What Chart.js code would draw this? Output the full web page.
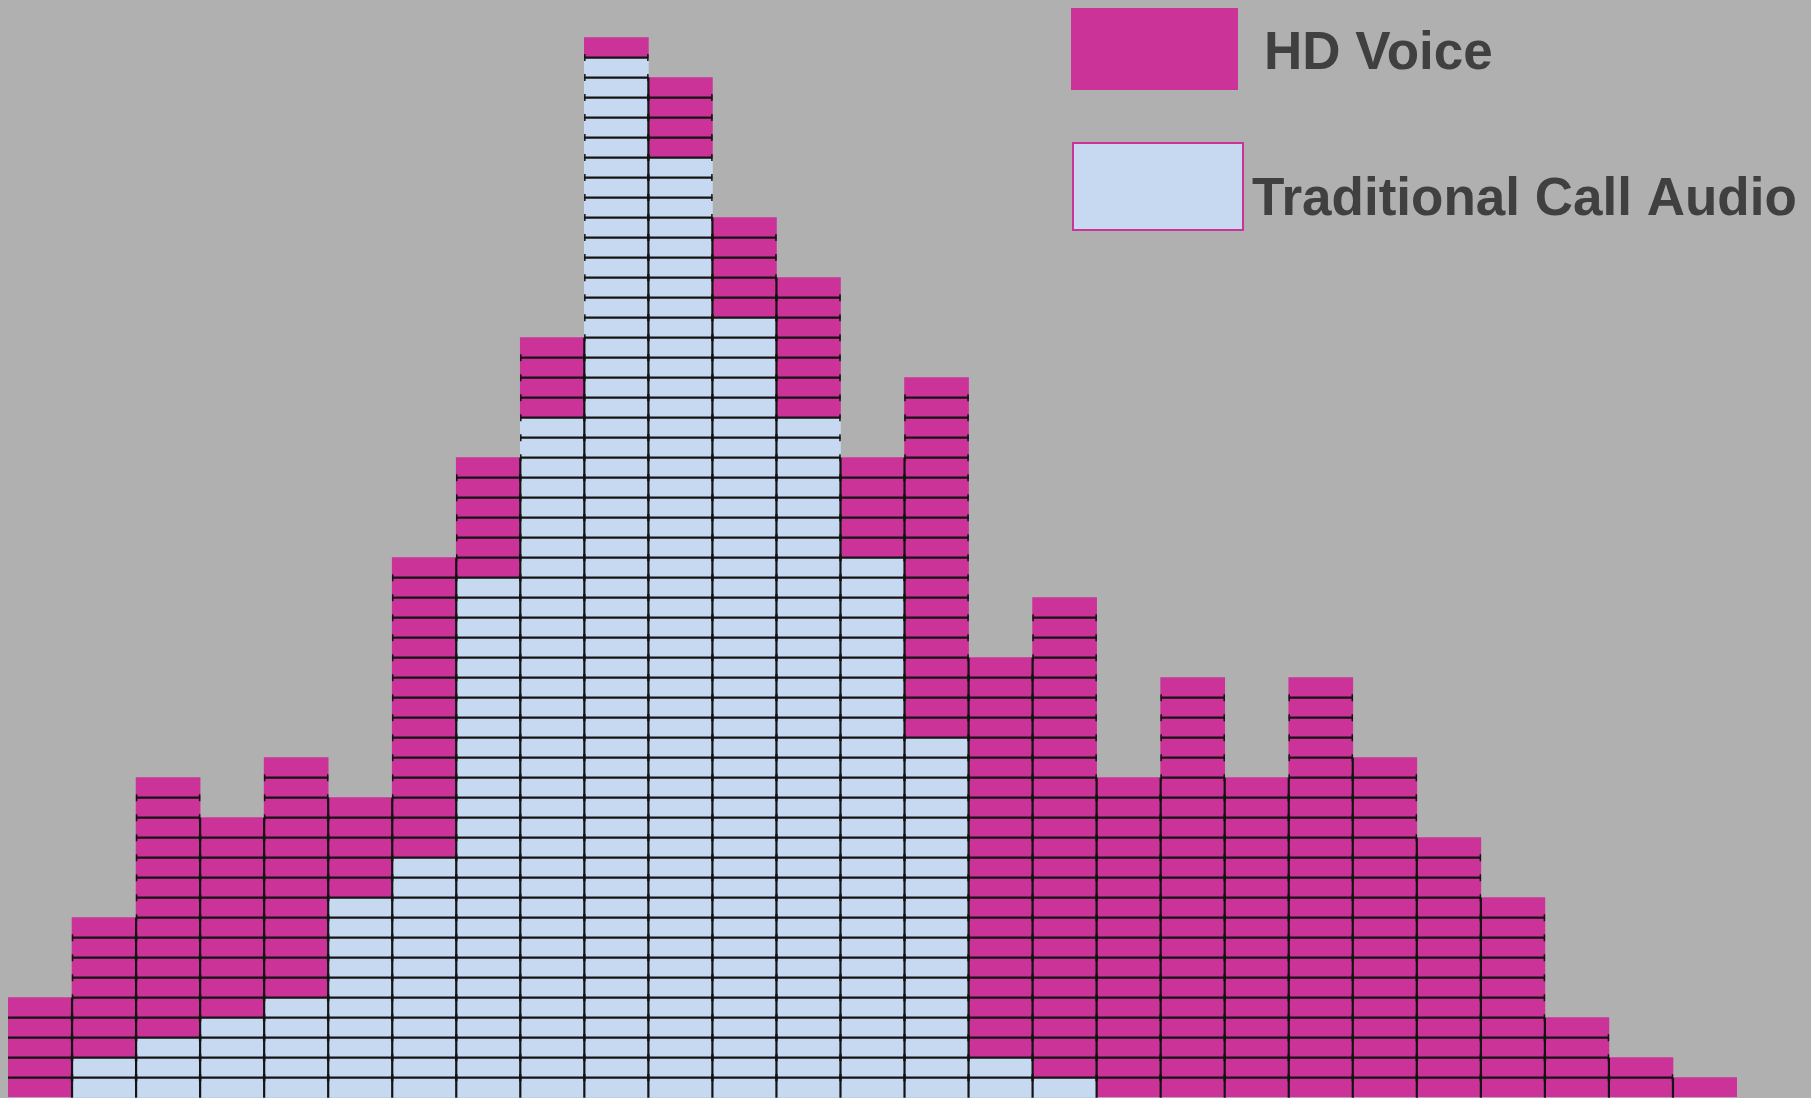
<!DOCTYPE html>
<html>
<head>
<meta charset="utf-8">
<script src="https://cdn.jsdelivr.net/npm/chart.js@4.4.1/dist/chart.umd.min.js"></script>
<style>
  html, body { margin: 0; padding: 0; background: #b0b0b0; }
  #wrap { width: 1811px; height: 1098px; position: relative; }
</style>
</head>
<body>
<div id="wrap"><canvas id="c" width="1811" height="1098"></canvas></div>
<script>
// ---- data ----
const categories = ["1","2","3","4","5","6","7","8","9","10","11","12","13","14","15","16","17","18","19","20","21","22","23","24","25","26","27"];
const traditionalValues = [0,2,3,4,5,10,12,26,34,52,47,39,34,27,18,2,1,0,0,0,0,0,0,0,0,0,0];
const hdVoiceValues     = [5,7,13,10,12,5,15,6,4,1,4,5,7,5,18,20,24,16,21,16,21,17,13,10,4,2,1];
const seriesLabels = ["HD Voice", "Traditional Call Audio"];

const MAGENTA = '#cc3399';
const LIGHTBLUE = '#c6d9f1';
const LINE = '#141414';

const bgPlugin = {
  id: 'bg',
  beforeDraw(chart) {
    const ctx = chart.ctx;
    ctx.save();
    ctx.fillStyle = '#b0b0b0';
    ctx.fillRect(0, 0, chart.width, chart.height);
    ctx.restore();
  }
};

const segmentPlugin = {
  id: 'segments',
  afterDatasetsDraw(chart) {
    const ctx = chart.ctx;
    const y = chart.scales.y;
    const metaT = chart.getDatasetMeta(0);
    const n = categories.length;
    const totals = categories.map((_, i) => traditionalValues[i] + hdVoiceValues[i]);
    const edges = metaT.data.map(b => {
      const p = b.getProps(['x', 'width'], true);
      return [p.x - p.width / 2, p.x + p.width / 2];
    });
    const base = y.getPixelForValue(0);
    ctx.save();
    ctx.strokeStyle = LINE;
    ctx.lineWidth = 2.2;
    // vertical separators between adjacent bars
    for (let i = 0; i < n - 1; i++) {
      const h = Math.min(totals[i], totals[i + 1]);
      if (h <= 0) continue;
      const xb = edges[i][1];
      ctx.beginPath();
      ctx.moveTo(xb, base);
      ctx.lineTo(xb, y.getPixelForValue(h));
      ctx.stroke();
    }
    // horizontal unit lines with caps
    for (let i = 0; i < n; i++) {
      const [l, r] = edges[i];
      for (let u = 1; u < totals[i]; u++) {
        const py = y.getPixelForValue(u);
        ctx.lineWidth = 2.2;
        ctx.beginPath();
        ctx.moveTo(l, py);
        ctx.lineTo(r, py);
        ctx.stroke();
        ctx.beginPath();
        ctx.lineWidth = 1.5;
        if (i > 0) { ctx.moveTo(l + 0.5, py - 3.5); ctx.lineTo(l + 0.5, py + 3.5); }
        if (i < n - 1) { ctx.moveTo(r - 0.5, py - 3.5); ctx.lineTo(r - 0.5, py + 3.5); }
        ctx.stroke();
      }
    }
    ctx.restore();
  }
};

const legendPlugin = {
  id: 'customLegend',
  afterDraw(chart) {
    const ctx = chart.ctx;
    ctx.save();
    // HD Voice swatch
    ctx.fillStyle = MAGENTA;
    ctx.fillRect(1071, 8, 167, 82);
    // Traditional swatch
    ctx.fillStyle = LIGHTBLUE;
    ctx.fillRect(1073, 143, 170, 87);
    ctx.strokeStyle = MAGENTA;
    ctx.lineWidth = 2;
    ctx.strokeRect(1073, 143, 170, 87);
    ctx.fillStyle = '#404040';
    ctx.font = 'bold 53px "Liberation Sans", Arial, sans-serif';
    ctx.textBaseline = 'alphabetic';
    ctx.fillText(chart.data.datasets[1].label, 1264, 69);
    ctx.fillText(chart.data.datasets[0].label, 1252, 215);
    ctx.restore();
  }
};

new Chart(document.getElementById('c'), {
  type: 'bar',
  data: {
    labels: categories,
    datasets: [
      { label: seriesLabels[1], data: traditionalValues, backgroundColor: LIGHTBLUE, borderWidth: 0, barPercentage: 1, categoryPercentage: 1 },
      { label: seriesLabels[0], data: hdVoiceValues, backgroundColor: MAGENTA, borderWidth: 0, barPercentage: 1, categoryPercentage: 1 }
    ]
  },
  options: {
    responsive: false,
    animation: false,
    layout: { padding: { left: 8, right: 74, top: 0, bottom: 0.3 } },
    plugins: { legend: { display: false }, tooltip: { enabled: false } },
    scales: {
      x: { stacked: true, display: false, grid: { display: false } },
      y: { stacked: true, display: false, min: 0, max: 54.88, grid: { display: false } }
    }
  },
  plugins: [bgPlugin, segmentPlugin, legendPlugin]
});
</script>
</body>
</html>
